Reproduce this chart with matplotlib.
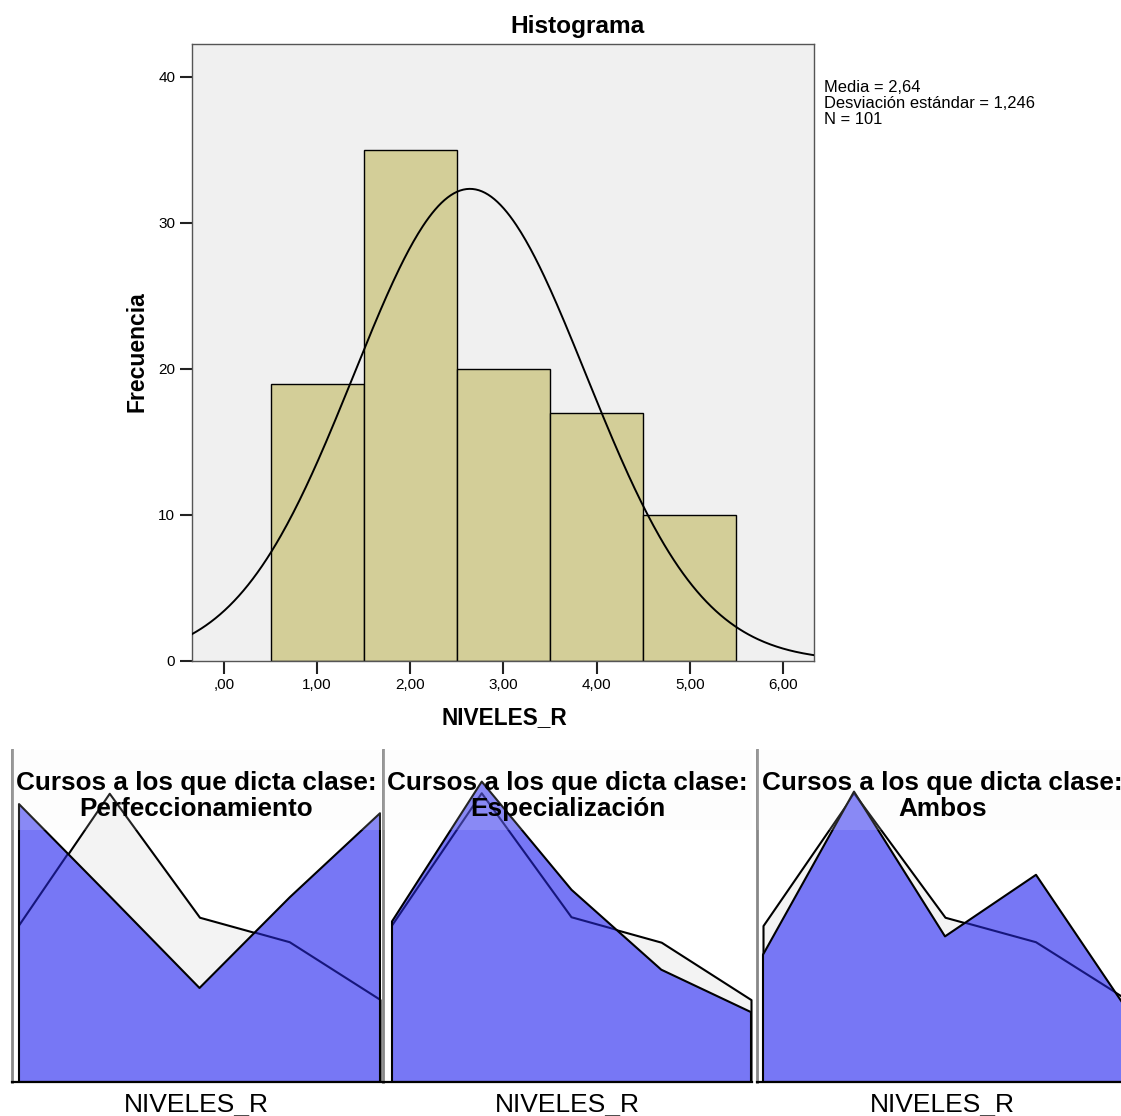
import numpy as np
import matplotlib
matplotlib.use("Agg")
import matplotlib.pyplot as plt
from matplotlib.patches import Rectangle

plt.rcParams['font.family'] = ['Liberation Sans', 'DejaVu Sans']

# ======================
# DATOS
# ======================

# histograma de NIVELES_R
bin_centers = [1, 2, 3, 4, 5]
frecuencias = [19, 35, 20, 17, 10]
media = 2.64
desviacion = 1.246
n_total = 101
x_ticks = [0, 1, 2, 3, 4, 5, 6]
x_tick_labels = [",00", "1,00", "2,00", "3,00", "4,00", "5,00", "6,00"]
y_ticks = [0, 10, 20, 30, 40]

# paneles inferiores (porcentajes)
niveles = [1, 2, 3, 4, 5]
pct_total = [18.8, 34.7, 19.8, 16.8, 9.9]
paneles = ["Perfeccionamiento", "Especialización", "Ambos"]
pct_perfeccionamiento = [33.4, 22.4, 11.3, 22.2, 32.3]
pct_especializacion = [19.3, 36.1, 23.1, 13.5, 8.4]
pct_ambos = [15.3, 34.9, 17.5, 24.9, 8.7]
pct_paneles = [pct_perfeccionamiento, pct_especializacion, pct_ambos]

W, H = 1121, 1116
fig = plt.figure(figsize=(W / 100, H / 100), dpi=100)


def rect(x0, y0, x1, y1):
    # pixeles -> fraccion de la figura
    return [x0 / W, 1 - y1 / H, (x1 - x0) / W, (y1 - y0) / H]


# ======================
# HISTOGRAMA
# ======================
ax = fig.add_axes(rect(192, 44, 814, 661))
ax.set_facecolor("#F0F0F0")
ax.bar(bin_centers, frecuencias, width=1.0, color="#D3CE98",
       edgecolor="black", linewidth=1.0, zorder=2)

# curva normal con la media y desviacion del grafico
xs = np.linspace(-0.343, 6.333, 400)
curva = n_total * np.exp(-0.5 * ((xs - media) / desviacion) ** 2) / (desviacion * np.sqrt(2 * np.pi))
ax.plot(xs, curva, color="black", linewidth=1.4, zorder=3)

ax.set_xlim(-0.343, 6.333)
ax.set_ylim(0, 42.26)
ax.set_xticks(x_ticks)
ax.set_xticklabels(x_tick_labels)
ax.set_yticks(y_ticks)
ax.tick_params(direction="out", length=9, width=1.5, color="#222222",
               labelsize=11, pad=3)
for s in ax.spines.values():
    s.set_color("#555555")
    s.set_linewidth(1.0)

fig.text(578 / W, 1 - 26 / H, "Histograma", ha="center", va="center",
         fontsize=17.6, fontweight="bold")
fig.text(504 / W, 1 - 718 / H, "NIVELES_R", ha="center", va="center",
         fontsize=16.3, fontweight="bold")
fig.text(137 / W, 1 - 352 / H, "Frecuencia", ha="center", va="center",
         fontsize=16.5, fontweight="bold", rotation=90)

stats = ["Media = 2,64", "Desviación estándar = 1,246", "N = 101"]
for i, linea in enumerate(stats):
    fig.text(824 / W, 1 - (87.5 + 16 * i) / H, linea, ha="left", va="center",
             fontsize=11.9)

# ======================
# PANELES
# ======================
# (eje izquierdo, posicion de x=1, posicion de x=5) en pixeles
pos_paneles = [(12, 19, 380), (383, 392, 751), (757, 763, 1127)]
for (sp, p1, p5), nombre, pct in zip(pos_paneles, paneles, pct_paneles):
    axp = fig.add_axes(rect(sp, 750, p5 + 1, 1082))
    escala = (p5 - p1) / 4
    axp.set_xlim(1 - (p1 - sp) / escala, 5 + 1 / escala)
    axp.set_ylim(0, 39.9)
    axp.fill_between(niveles, pct_total, 0, facecolor="#F3F3F3",
                     edgecolor="black", linewidth=1.5, zorder=1)
    azul = axp.fill_between(niveles, pct, 0, facecolor="#7777F5",
                            edgecolor="none", zorder=2)
    # borde del total visto a traves del area azul
    linea_total, = axp.plot(niveles, pct_total, color="#16167C",
                            linewidth=1.5, zorder=2.5)
    linea_total.set_clip_path(azul.get_paths()[0], axp.transData)
    axp.fill_between(niveles, pct, 0, facecolor="none",
                     edgecolor="black", linewidth=1.5, zorder=2.8)
    axp.add_patch(Rectangle((0, 0.759), 1, 0.241, transform=axp.transAxes,
                            facecolor="#F5F5F5", alpha=0.15, zorder=3,
                            linewidth=0))
    axp.text(0.5, 0.90, "Cursos a los que dicta clase:", transform=axp.transAxes,
             ha="center", va="center", fontsize=18.8, fontweight="bold", zorder=4)
    axp.text(0.5, 0.822, nombre, transform=axp.transAxes,
             ha="center", va="center", fontsize=18.8, fontweight="bold", zorder=4)
    axp.text(0.5, -0.07, "NIVELES_R", transform=axp.transAxes,
             ha="center", va="center", fontsize=19, clip_on=False)
    axp.set_xticks([])
    axp.set_yticks([])
    axp.spines["top"].set_visible(False)
    axp.spines["right"].set_visible(False)
    axp.spines["left"].set_color("#888888")
    axp.spines["left"].set_linewidth(2)
    axp.spines["bottom"].set_color("black")
    axp.spines["bottom"].set_linewidth(1.6)

fig.savefig("out.png", dpi=100)
